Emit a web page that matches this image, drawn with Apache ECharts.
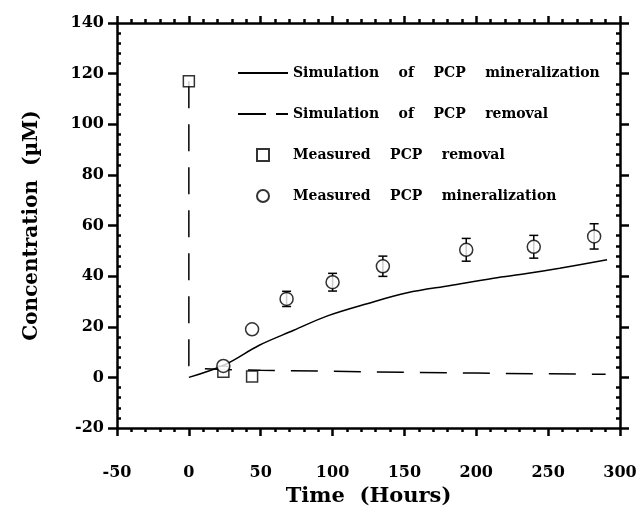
<!DOCTYPE html>
<html>
<head>
<meta charset="utf-8">
<script src="https://cdn.jsdelivr.net/npm/echarts@6/dist/echarts.min.js"></script>
<style>html,body{margin:0;padding:0;background:#fff;}#c{width:641px;height:512px;}</style>
</head>
<body>
<div id="c"></div>
<script>
// ---- data ----
const simMinX = [0, 25, 49, 73, 96, 124, 152, 182, 212, 235, 258, 291];
const simMinY = [0, 5, 12.7, 18.6, 24.2, 29.1, 33.4, 36.3, 39.2, 41, 43.1, 46.5];
const simRemX = [0, 0, 5, 25, 50, 100, 150, 200, 250, 290];
const simRemY = [117, 4.6, 3.6, 3.1, 2.8, 2.4, 2.0, 1.7, 1.4, 1.2];
const measRemX = [0, 24, 44];
const measRemY = [117, 2.2, 0.3];
const measMinX = [24, 44, 68, 100, 135, 193, 240, 282];
const measMinY = [4.5, 19, 31, 37.6, 43.9, 50.4, 51.6, 55.7];
const measMinErr = [0, 0, 3, 3.5, 4, 4.5, 4.5, 5];
const xRange = [-50, 300, 50];
const yRange = [-20, 140, 20];
const seriesNames = [
  'Simulation    of    PCP    mineralization',
  'Simulation    of    PCP    removal',
  'Measured    PCP    removal',
  'Measured    PCP    mineralization'
];
const xTitle = 'Time  (Hours)';
const yTitle = 'Concentration  (\u00b5M)';

const zip = (a, b) => a.map((v, i) => [v, b[i]]);
const FONT = 'DejaVu Serif';
const lbl = { color: '#000', fontFamily: FONT, fontWeight: 'bold', fontSize: 16 };
const axLine = { show: true, onZero: false, lineStyle: { color: '#000', width: 2.5 } };
const noLine = { show: false, onZero: false };
const tickSt = { width: 2.5, color: '#000' };

const chart = echarts.init(document.getElementById('c'), null, { renderer: 'canvas' });
const baseX = { type: 'value', min: xRange[0], max: xRange[1], interval: xRange[2], splitLine: { show: false } };
const baseY = { type: 'value', min: yRange[0], max: yRange[1], interval: yRange[2], splitLine: { show: false } };

chart.setOption({
  animation: false,
  backgroundColor: '#fff',
  grid: { left: 117, right: 21, top: 23, bottom: 82 },
  xAxis: [
    Object.assign({}, baseX, {
      position: 'bottom',
      axisLine: axLine,
      axisTick: { show: true, length: 8, lineStyle: tickSt },
      minorTick: { show: true, splitNumber: 5, length: 4, lineStyle: tickSt },
      axisLabel: Object.assign({ margin: 37 }, lbl),
      name: xTitle, nameLocation: 'middle', nameGap: 58,
      nameTextStyle: { color: '#000', fontFamily: FONT, fontWeight: 'bold', fontSize: 21 }
    }),
    Object.assign({}, baseX, {
      position: 'top',
      axisLine: axLine,
      axisTick: { show: true, length: 7, lineStyle: tickSt },
      minorTick: { show: true, splitNumber: 5, length: 4, lineStyle: tickSt },
      axisLabel: { show: false }
    })
  ],
  yAxis: [
    Object.assign({}, baseY, {
      position: 'left', offset: 0,
      axisLine: axLine,
      axisTick: { show: true, length: 9, lineStyle: tickSt },
      axisLabel: Object.assign({ margin: 13 }, lbl),
      name: yTitle, nameLocation: 'middle', nameGap: 75,
      nameTextStyle: { color: '#000', fontFamily: FONT, fontWeight: 'bold', fontSize: 20 }
    }),
    Object.assign({}, baseY, {
      position: 'left', offset: 0,
      axisLine: noLine,
      axisTick: { show: false, inside: true },
      minorTick: { show: true, splitNumber: 5, length: 4, lineStyle: tickSt },
      axisLabel: { show: false }
    }),
    Object.assign({}, baseY, {
      position: 'right', offset: 0,
      axisLine: axLine,
      axisTick: { show: true, length: 9, lineStyle: tickSt },
      axisLabel: { show: false }
    }),
    Object.assign({}, baseY, {
      position: 'right', offset: 0,
      axisLine: noLine,
      axisTick: { show: false, inside: true },
      minorTick: { show: true, splitNumber: 5, length: 4, lineStyle: tickSt },
      axisLabel: { show: false }
    })
  ],
  legend: {
    orient: 'vertical', left: 237, top: 66, padding: 0,
    itemWidth: 50, itemHeight: 12, itemGap: 27, symbolKeepAspect: true,
    textStyle: { color: '#000', fontFamily: FONT, fontWeight: 'bold', fontSize: 14, lineHeight: 14 },
    data: [
      { name: seriesNames[0], itemStyle: { opacity: 0 } },
      { name: seriesNames[1], itemStyle: { opacity: 0 }, lineStyle: { type: [28, 10] } },
      { name: seriesNames[2], icon: 'path://M0,0L10,0L10,10L0,10Z' },
      { name: seriesNames[3] }
    ]
  },
  series: [
    {
      name: seriesNames[0], type: 'line', data: zip(simMinX, simMinY), smooth: 0.35,
      symbol: 'none', lineStyle: { color: '#000', width: 1.5 }, itemStyle: { color: '#000' }
    },
    {
      name: seriesNames[1], type: 'line', data: zip(simRemX, simRemY),
      symbol: 'none', lineStyle: { color: '#000', width: 1.5, type: [27, 16] }, itemStyle: { color: '#000' }
    },
    {
      name: 'errors', type: 'custom', data: measMinX.map((x, i) => [x, measMinY[i], measMinErr[i]]),
      renderItem: function (params, api) {
        const x = api.value(0), y = api.value(1), e = api.value(2);
        if (!e) return null;
        const top = api.coord([x, y + e]);
        const bot = api.coord([x, y - e]);
        const hw = 4.5;
        const st = { stroke: '#000', lineWidth: 1.5 };
        return { type: 'group', children: [
          { type: 'line', shape: { x1: top[0], y1: top[1], x2: bot[0], y2: bot[1] }, style: st },
          { type: 'line', shape: { x1: top[0] - hw, y1: top[1], x2: top[0] + hw, y2: top[1] }, style: st },
          { type: 'line', shape: { x1: bot[0] - hw, y1: bot[1], x2: bot[0] + hw, y2: bot[1] }, style: st }
        ] };
      },
      z: 3
    },
    {
      name: seriesNames[2], type: 'scatter', data: zip(measRemX, measRemY),
      symbol: 'rect', symbolSize: 11, symbolKeepAspect: true,
      itemStyle: { color: '#fff', borderColor: '#000', borderWidth: 1.5 }, z: 4
    },
    {
      name: seriesNames[3], type: 'scatter', data: zip(measMinX, measMinY),
      symbol: 'circle', symbolSize: 13,
      itemStyle: { color: '#fff', borderColor: '#000', borderWidth: 1.5 }, z: 5
    }
  ]
});
</script>
</body>
</html>
